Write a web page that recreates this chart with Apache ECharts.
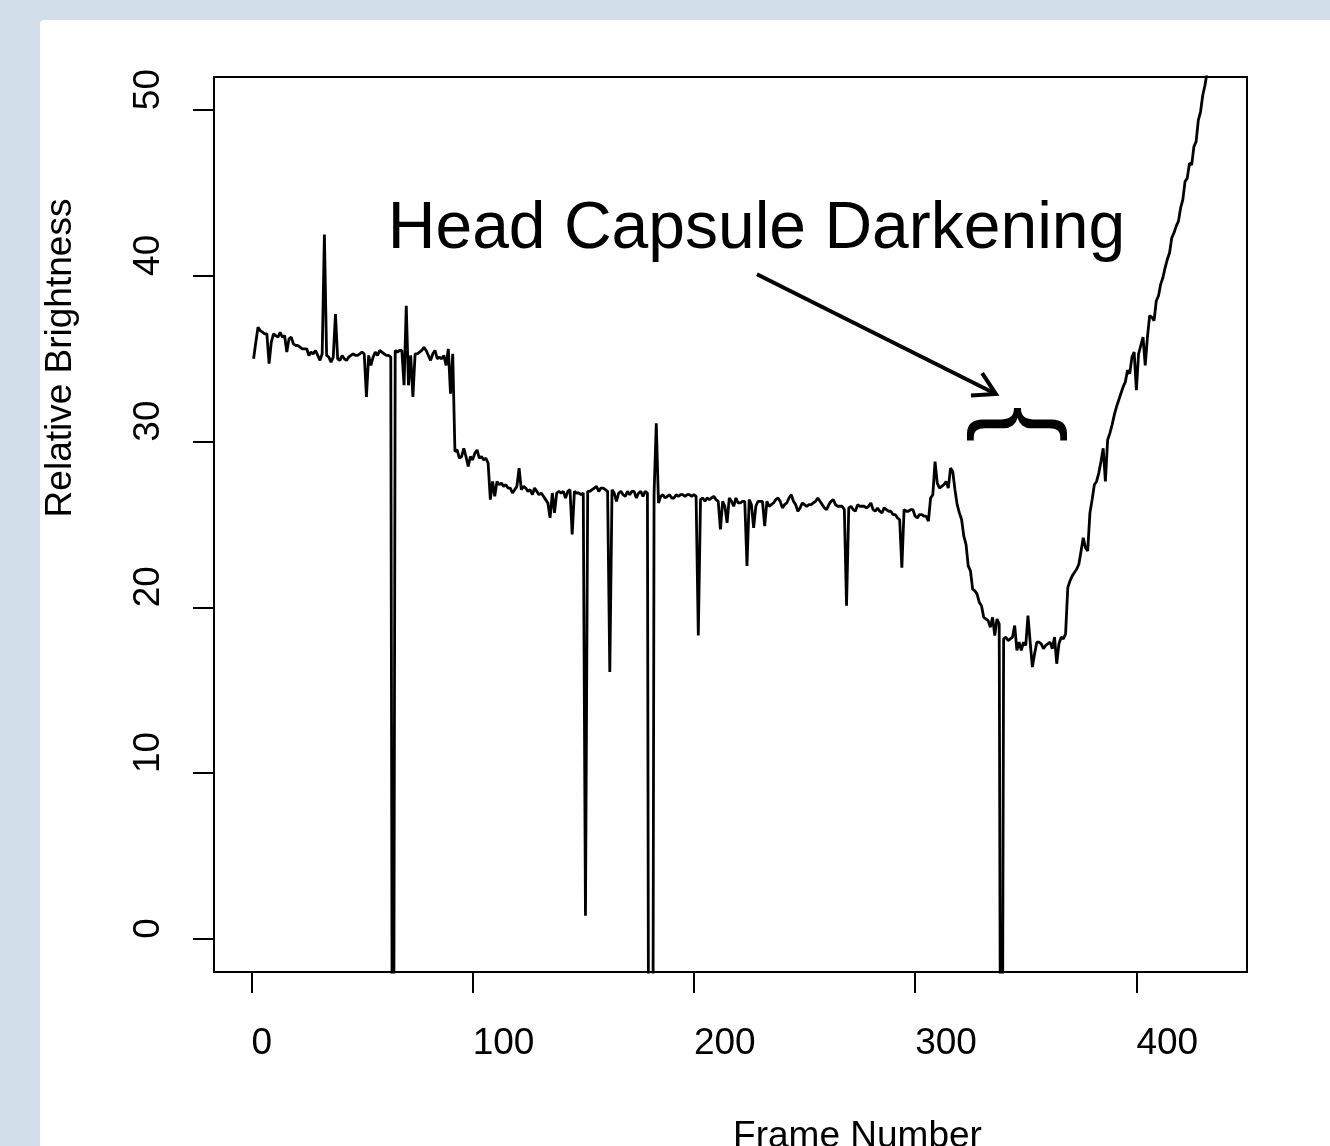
<!DOCTYPE html>
<html><head><meta charset="utf-8">
<script src="https://cdn.jsdelivr.net/npm/echarts@6/dist/echarts.min.js"></script>
<style>
html,body{margin:0;padding:0;width:1330px;height:1146px;overflow:hidden;background:#d2dfeb;}
#panel{position:absolute;left:40px;top:20px;width:1290px;height:1126px;background:#fff;border-top-left-radius:4px;}
#chart{position:absolute;left:0;top:0;width:1330px;height:1146px;}
</style></head><body><div id="panel"></div><div id="chart"></div>
<script>
// Relative brightness per frame (frames 1..433)
const brightness = [
35.0,36.0,36.9,36.7,36.6,36.5,36.5,34.7,36.0,36.5,
36.4,36.3,36.6,36.3,36.4,35.4,36.2,36.3,35.9,35.8,
35.8,35.7,35.6,35.6,35.6,35.2,35.4,35.3,35.5,35.2,
34.9,35.3,42.5,35.2,35.1,34.8,35.1,37.7,35.0,34.9,
35.2,35.0,34.9,35.1,35.2,35.3,35.2,35.2,35.3,35.4,
35.3,32.7,35.2,34.6,35.1,35.4,35.2,35.5,35.4,35.3,
35.2,35.2,35.1,-30,35.5,35.4,35.5,35.5,33.4,38.2,
33.4,35.2,32.7,35.3,35.3,35.4,35.5,35.7,35.5,35.2,
34.9,35.3,35.5,35.0,35.1,35.0,35.2,34.6,35.6,32.9,
35.3,29.4,29.5,29.0,29.1,29.6,29.1,28.5,29.1,28.9,
29.3,29.5,29.0,29.1,28.9,29.0,28.7,26.5,27.6,26.7,
27.6,27.4,27.5,27.3,27.4,27.2,27.2,26.9,27.1,27.3,
28.4,27.1,27.3,27.2,27.0,27.1,26.8,27.2,27.0,26.8,
26.9,26.7,26.5,26.3,25.4,26.9,25.7,26.9,27.0,26.9,
27.0,26.6,27.0,27.1,24.4,27.0,26.9,26.9,26.8,26.9,
1.4,27.0,27.0,27.1,27.2,27.3,27.0,27.2,27.2,27.1,
27.0,16.1,27.1,26.9,26.4,26.9,27.0,26.8,26.7,27.0,
26.8,27.0,27.0,26.6,26.9,27.0,26.7,27.0,26.9,-40,
-40,26.8,31.1,26.3,26.7,26.8,26.6,26.7,26.8,26.6,
26.6,26.8,26.7,26.8,26.8,26.7,26.8,26.8,26.7,26.8,
26.7,18.3,26.5,26.6,26.4,26.6,26.5,26.6,26.7,26.5,
26.4,24.7,26.4,26.1,25.1,26.6,26.4,26.1,26.6,26.3,
26.3,26.4,26.4,22.5,26.5,26.2,24.8,26.1,26.4,26.4,
26.4,24.9,26.4,26.1,26.2,26.3,26.5,26.6,26.4,26.0,
26.2,26.3,26.6,26.8,26.4,26.2,25.8,26.0,26.3,26.2,
26.1,26.2,26.2,26.3,26.4,26.6,26.4,26.2,26.0,25.9,
26.2,26.4,26.5,26.2,26.1,26.1,26.1,25.9,20.1,26.0,
26.1,25.9,25.8,26.2,26.1,26.1,26.1,26.0,26.1,26.3,
25.9,25.8,26.0,25.8,25.7,26.0,25.9,25.8,25.8,25.6,
25.6,25.4,25.3,22.4,25.9,25.8,25.8,25.9,25.9,25.5,
25.4,25.6,25.6,25.5,25.5,25.2,26.6,26.8,28.8,27.5,
27.2,27.3,27.4,27.6,27.2,28.4,28.2,27.1,26.2,25.7,
25.3,24.3,23.8,22.5,22.2,21.1,21.0,20.8,20.3,20.1,
19.4,19.3,19.2,18.8,19.4,18.3,19.3,19.0,-30,18.1,
18.2,18.0,18.1,18.2,18.9,17.4,17.9,17.4,17.9,17.7,
19.5,17.9,16.4,17.2,17.9,17.9,17.8,17.5,17.7,17.8,
17.9,17.5,18.2,16.6,17.8,18.2,18.1,18.4,21.2,21.6,
21.9,22.1,22.3,22.6,23.4,24.2,23.6,23.4,25.7,26.5,
27.4,27.6,28.1,28.8,29.6,27.6,30.1,30.5,31.0,31.6,
32.1,32.5,32.9,33.3,33.6,34.3,34.1,35.1,35.4,33.1,
35.3,35.8,36.3,34.6,36.3,37.6,37.5,37.3,38.5,38.8,
39.5,39.9,40.5,41.0,41.4,42.3,42.6,43.0,43.3,44.1,
44.6,45.7,45.9,46.8,46.7,47.8,48.1,49.4,49.9,50.9,
51.5,52.3,53.2
];
const firstFrame = 1;
const xTicks = [0, 100, 200, 300, 400];
const yTicks = [0, 10, 20, 30, 40, 50];
const xTitle = 'Frame Number';
const yTitle = 'Relative Brightness';
const noteText = 'Head Capsule Darkening';
// annotation anchors in data units [frame, brightness]
const notePos = [228.3, 42.8];
const arrowFrom = [228.5, 40.1];
const arrowTo = [336.5, 32.87];
const bracePos = [346.8, 31.05];

const FONT = "'Liberation Sans', Arial, Helvetica, sans-serif";
const chart = echarts.init(document.getElementById('chart'), null, {renderer: 'canvas'});

const seriesData = brightness.map((v, i) => [i + firstFrame, v]);

const option = {
  animation: false,
  backgroundColor: 'transparent',
  grid: {left: 214, top: 77, right: 83, bottom: 174, show: true, borderColor: '#000', borderWidth: 2,
         backgroundColor: 'transparent', containLabel: false, outerBoundsMode: 'none'},
  xAxis: {
    type: 'value', min: -16.9, max: 450,
    axisLine: {show: false, onZero: false}, splitLine: {show: false},
    axisTick: {show: true, inside: false, length: 21, lineStyle: {color: '#000', width: 2}, customValues: xTicks},
    axisLabel: {show: true, customValues: xTicks, color: '#000', fontSize: 37, fontFamily: FONT,
                align: 'left', verticalAlign: 'middle', margin: 72}
  },
  yAxis: {
    type: 'value', min: -2, max: 52,
    axisLine: {show: false, onZero: false}, splitLine: {show: false},
    axisTick: {show: true, inside: false, length: 21, lineStyle: {color: '#000', width: 2}, customValues: yTicks},
    axisLabel: {show: true, customValues: yTicks, color: '#000', fontSize: 37, fontFamily: FONT,
                rotate: 90, align: 'left', verticalAlign: 'middle', margin: 65}
  },
  series: [{
    type: 'line', data: seriesData, showSymbol: false, symbol: 'none', clip: true, silent: true,
    lineStyle: {color: '#000', width: 2.8}, sampling: null
  }]
};
chart.setOption(option);

const px = (pt) => chart.convertToPixel({gridIndex: 0}, pt);
const a0 = px(arrowFrom), a1 = px(arrowTo), tp = px(notePos), bp = px(bracePos);
const ang = Math.atan2(a1[1] - a0[1], a1[0] - a0[0]);
const headLen = 25, headAng = Math.PI / 6;
const b1 = [a1[0] - headLen * Math.cos(ang - headAng), a1[1] - headLen * Math.sin(ang - headAng)];
const b2 = [a1[0] - headLen * Math.cos(ang + headAng), a1[1] - headLen * Math.sin(ang + headAng)];

function txt(text, x, y, size, rot) {
  return {type: 'text', x: x, y: y, rotation: rot || 0, silent: true, z: 10,
    style: {text: text, x: 0, y: 0, fill: '#000', font: size + 'px ' + FONT,
            align: 'center', verticalAlign: 'middle', textAlign: 'center', textVerticalAlign: 'middle'}};
}

chart.setOption({
  graphic: [
    txt(noteText, tp[0], tp[1], 66, 0),
    {type: 'line', silent: true, z: 10, shape: {x1: a0[0], y1: a0[1], x2: a1[0], y2: a1[1]},
     style: {stroke: '#000', lineWidth: 4}},
    {type: 'polyline', silent: true, z: 10, shape: {points: [b1, a1, b2]},
     style: {stroke: '#000', lineWidth: 4, fill: null, lineJoin: 'miter'}},
    txt('{', bp[0], bp[1], 108, -Math.PI / 2),
    txt(xTitle, 857.5, 1136.7, 37, 0),
    txt(yTitle, 61, 358, 37, Math.PI / 2)
  ]
});
</script></body></html>
